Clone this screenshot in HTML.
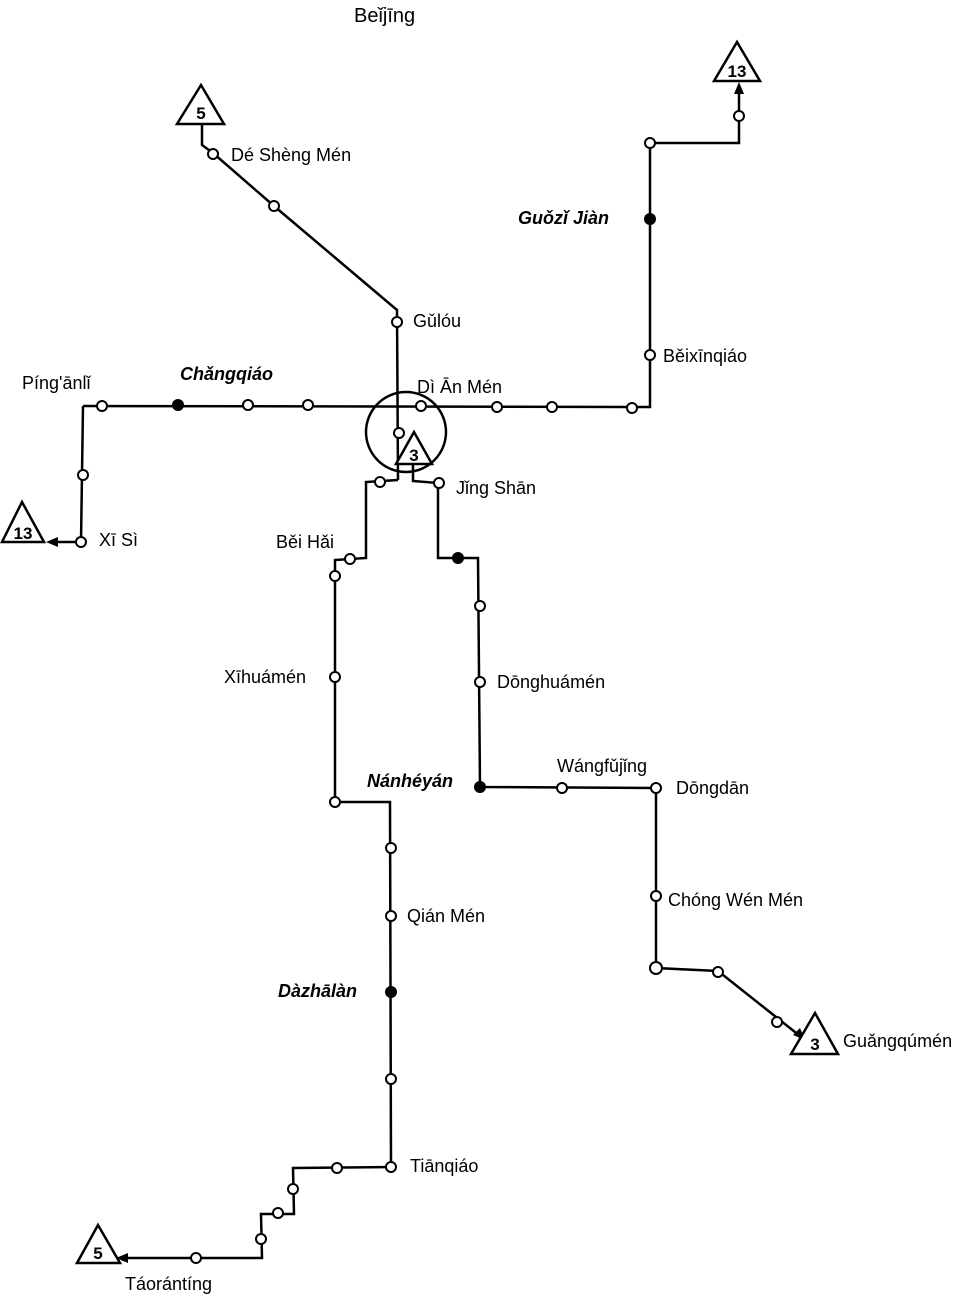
<!DOCTYPE html>
<html><head><meta charset="utf-8"><style>
html,body{margin:0;padding:0;background:#fff;}
svg{display:block;}
text{font-family:"Liberation Sans",sans-serif;font-size:18px;fill:#000;}
.i{font-style:italic;font-weight:bold;}
.n{font-weight:bold;font-size:17px;text-anchor:middle;}
</style></head><body>
<svg width="975" height="1294" viewBox="0 0 975 1294" xmlns="http://www.w3.org/2000/svg">
<g fill="none" stroke="#000" stroke-width="2.5" stroke-linejoin="miter">
<polyline points="202,124 202,145 213,153 274,206 397,310 398,480"/>
<polyline points="398,480 366,482 366,558 335,560 335,802 390,802 391,1167 293,1168 294,1214 261,1214 262,1258 122,1258"/>
<polyline points="413,463 413,481 438,483 438,558 478,558 480,787 656,788 656,968 718,971 800,1036"/>
<polyline points="83,406 650,407 650,143 739,143 739,88"/>
<polyline points="83,406 81,542 52,542"/>
<circle cx="406" cy="432" r="40"/>
</g>
<g fill="#000">
<polygon points="739,82 734,94 744,94"/>
<polygon points="46,542 58,537 58,547"/>
<polygon points="116,1258 128,1253 128,1263"/>
<polygon points="805,1040 793,1035 800,1028"/>
</g>
<g fill="#fff" stroke="#000" stroke-width="2.5">
<polygon points="201,85 177,124 224,124"/>
<polygon points="737,42 714,81 760,81"/>
<polygon points="22,502 2,542 44,542"/>
<polygon points="414,432 396,464 432,464"/>
<polygon points="98,1225 77,1263 120,1263"/>
<polygon points="815,1013 791,1054 838,1054"/>
</g>
<text class="n" x="201" y="119">5</text>
<text class="n" x="737" y="77">13</text>
<text class="n" x="23" y="539">13</text>
<text class="n" x="414" y="461">3</text>
<text class="n" x="98" y="1259">5</text>
<text class="n" x="815" y="1050">3</text>
<g fill="#fff" stroke="#000" stroke-width="2">
<circle cx="213" cy="154" r="5"/><circle cx="274" cy="206" r="5"/><circle cx="397" cy="322" r="5"/>
<circle cx="102" cy="406" r="5"/><circle cx="248" cy="405" r="5"/><circle cx="308" cy="405" r="5"/>
<circle cx="421" cy="406" r="5"/><circle cx="497" cy="407" r="5"/><circle cx="552" cy="407" r="5"/><circle cx="632" cy="408" r="5"/>
<circle cx="399" cy="433" r="5"/>
<circle cx="650" cy="355" r="5"/><circle cx="650" cy="143" r="5"/><circle cx="739" cy="116" r="5"/>
<circle cx="83" cy="475" r="5"/><circle cx="81" cy="542" r="5"/>
<circle cx="380" cy="482" r="5"/><circle cx="439" cy="483" r="5"/>
<circle cx="350" cy="559" r="5"/><circle cx="335" cy="576" r="5"/><circle cx="335" cy="677" r="5"/><circle cx="335" cy="802" r="5"/>
<circle cx="480" cy="606" r="5"/><circle cx="480" cy="682" r="5"/>
<circle cx="562" cy="788" r="5"/><circle cx="656" cy="788" r="5"/><circle cx="656" cy="896" r="5"/>
<circle cx="656" cy="968" r="6"/><circle cx="718" cy="972" r="5"/><circle cx="777" cy="1022" r="5"/>
<circle cx="391" cy="848" r="5"/><circle cx="391" cy="916" r="5"/><circle cx="391" cy="1079" r="5"/><circle cx="391" cy="1167" r="5"/>
<circle cx="337" cy="1168" r="5"/><circle cx="293" cy="1189" r="5"/><circle cx="278" cy="1213" r="5"/><circle cx="261" cy="1239" r="5"/><circle cx="196" cy="1258" r="5"/>
</g>
<g fill="#000">
<circle cx="178" cy="405" r="6"/><circle cx="458" cy="558" r="6"/><circle cx="650" cy="219" r="6"/>
<circle cx="480" cy="787" r="6"/><circle cx="391" cy="992" r="6"/>
</g>
<text x="354" y="22" style="font-size:20px">Beǐjīng</text>
<text x="231" y="161">Dé Shèng Mén</text>
<text x="413" y="327">Gǔlóu</text>
<text class="i" x="518" y="224">Guǒzǐ Jiàn</text>
<text x="663" y="362">Běixīnqiáo</text>
<text x="22" y="389">Píng'ānlǐ</text>
<text class="i" x="180" y="380">Chǎngqiáo</text>
<text x="417" y="393">Dì Ān Mén</text>
<text x="456" y="494">Jǐng Shān</text>
<text x="99" y="546">Xī Sì</text>
<text x="276" y="548">Běi Hǎi</text>
<text x="224" y="683">Xīhuámén</text>
<text x="497" y="688">Dōnghuámén</text>
<text x="557" y="772">Wángfǔjǐng</text>
<text class="i" x="367" y="787">Nánhéyán</text>
<text x="676" y="794">Dōngdān</text>
<text x="668" y="906">Chóng Wén Mén</text>
<text x="407" y="922">Qián Mén</text>
<text class="i" x="278" y="997">Dàzhālàn</text>
<text x="843" y="1047">Guǎngqúmén</text>
<text x="410" y="1172">Tiānqiáo</text>
<text x="125" y="1290">Táorántíng</text>
</svg>
</body></html>
